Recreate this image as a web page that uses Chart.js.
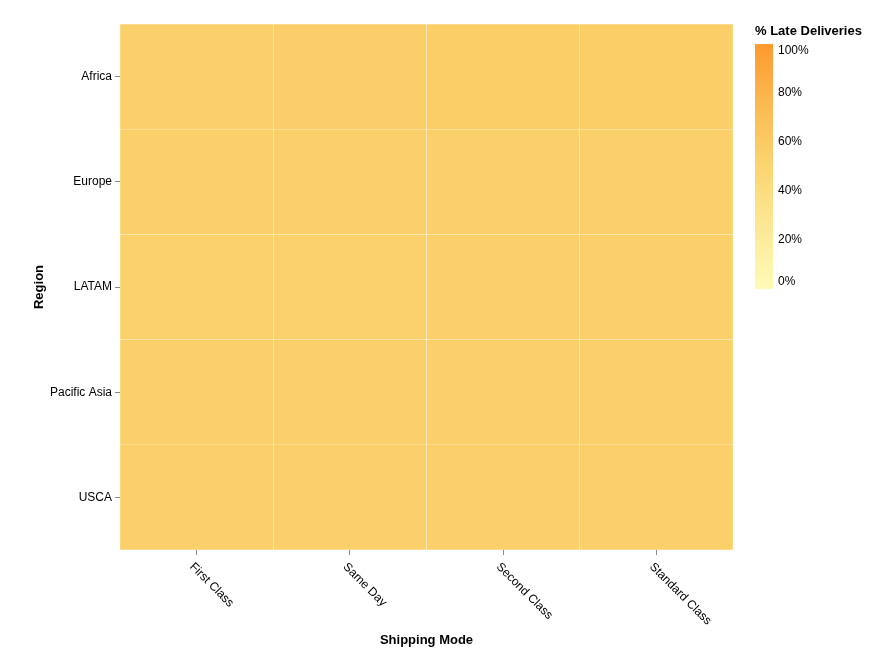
<!DOCTYPE html>
<html>
<head>
<meta charset="utf-8">
<script src="https://cdn.jsdelivr.net/npm/chart.js@4"></script>
<style>
  html, body { margin: 0; padding: 0; background: #fff; }
  #wrap { width: 876px; height: 663px; }
</style>
</head>
<body>
<div id="wrap"><canvas id="heat" width="876" height="663"></canvas></div>
<script>
// categories
const shipModes = ["First Class", "Same Day", "Second Class", "Standard Class"];
const regions = ["Africa", "Europe", "LATAM", "Pacific Asia", "USCA"];

// % late deliveries, one array per region (same order as shipModes)
const africa = [56.0, 56.2, 56.5, 56.3];
const europe = [55.0, 55.3, 54.2, 54.2];
const latam = [54.0, 53.6, 54.2, 54.2];
const pacificAsia = [54.6, 54.3, 54.2, 54.2];
const usca = [55.3, 55.0, 55.3, 55.3];
const lateRates = [africa, europe, latam, pacificAsia, usca];

// colour scale
const colorStops = [
  [0, [255, 251, 184]],
  [0.25, [251, 232, 150]],
  [0.5, [251, 213, 112]],
  [0.75, [251, 186, 82]],
  [1, [254, 154, 46]]
];
const legendTicks = [0, 20, 40, 60, 80, 100];

const FONT = "'Liberation Sans', Arial, sans-serif";

function rateColor(v) {
  const t = Math.max(0, Math.min(1, v / 100));
  for (let i = 1; i < colorStops.length; i++) {
    const a = colorStops[i - 1], b = colorStops[i];
    if (t <= b[0]) {
      const k = (t - a[0]) / (b[0] - a[0]);
      const c = a[1].map((x, j) => Math.round(x + (b[1][j] - x) * k));
      return 'rgb(' + c.join(',') + ')';
    }
  }
  return 'rgb(' + colorStops[colorStops.length - 1][1].join(',') + ')';
}

const datasets = regions.map((r, i) => ({
  label: r,
  data: shipModes.map(() => [i, i + 1]),
  backgroundColor: lateRates[i].map(rateColor),
  borderColor: 'rgba(255,255,255,0.15)',
  borderWidth: 0.5,
  borderSkipped: false,
  barPercentage: 1,
  categoryPercentage: 1,
  grouped: false
}));

// rotated x labels + colour legend
const extras = {
  id: 'extras',
  afterDraw(chart) {
    const ctx = chart.ctx;
    const xs = chart.scales.x;
    ctx.save();
    ctx.fillStyle = '#000';
    ctx.font = '12px ' + FONT;
    ctx.textAlign = 'left';
    ctx.textBaseline = 'middle';
    shipModes.forEach((m, i) => {
      const px = xs.getPixelForTick(i);
      ctx.save();
      ctx.translate(px - 5, xs.top + 15);
      ctx.rotate(Math.PI / 4);
      ctx.fillText(m, 0, 0);
      ctx.restore();
    });

    // legend
    const lx = 755, ly = 44, lw = 18, lh = 245;
    ctx.font = 'bold 13px ' + FONT;
    ctx.textBaseline = 'middle';
    ctx.fillText('% Late Deliveries', lx, 31);
    const g = ctx.createLinearGradient(0, ly + lh, 0, ly);
    colorStops.forEach(s => g.addColorStop(s[0], 'rgb(' + s[1].join(',') + ')'));
    ctx.fillStyle = g;
    ctx.fillRect(lx, ly, lw, lh);
    ctx.fillStyle = '#000';
    ctx.font = '12px ' + FONT;
    legendTicks.forEach(v => {
      let y = ly + lh - (v / 100) * lh;
      y = Math.max(ly + 7, Math.min(ly + lh - 7, y));
      ctx.fillText(v + '%', lx + 23, y);
    });
    ctx.restore();
  }
};

new Chart(document.getElementById('heat'), {
  type: 'bar',
  data: { labels: shipModes, datasets: datasets },
  plugins: [extras],
  options: {
    responsive: false,
    animation: false,
    layout: { padding: { top: 24, right: 143, left: 0, bottom: 0 } },
    plugins: { legend: { display: false }, tooltip: { enabled: false } },
    scales: {
      x: {
        type: 'category',
        offset: true,
        grid: { display: true, drawOnChartArea: false, drawTicks: true, tickLength: 5, color: '#888', offset: false },
        border: { display: false },
        ticks: { display: false },
        title: { display: true, text: 'Shipping Mode', color: '#000', font: { family: FONT, size: 13, weight: 'bold' }, padding: { top: 0, bottom: 15 } },
        afterFit(scale) { scale.height = 113; }
      },
      y: {
        type: 'linear',
        min: 0,
        max: regions.length,
        reverse: true,
        grid: { display: true, drawOnChartArea: false, drawTicks: true, tickLength: 5, color: '#888' },
        border: { display: false },
        afterBuildTicks(scale) {
          scale.ticks = regions.map((r, i) => ({ value: i + 0.5 }));
        },
        ticks: {
          color: '#000',
          padding: 3,
          font: { family: FONT, size: 12 },
          callback: (v, i) => regions[i]
        },
        title: { display: true, text: 'Region', color: '#000', font: { family: FONT, size: 13, weight: 'bold' }, padding: { top: 32, bottom: 0 } },
        afterFit(scale) { scale.width = 120; }
      }
    }
  }
});
</script>
</body>
</html>
